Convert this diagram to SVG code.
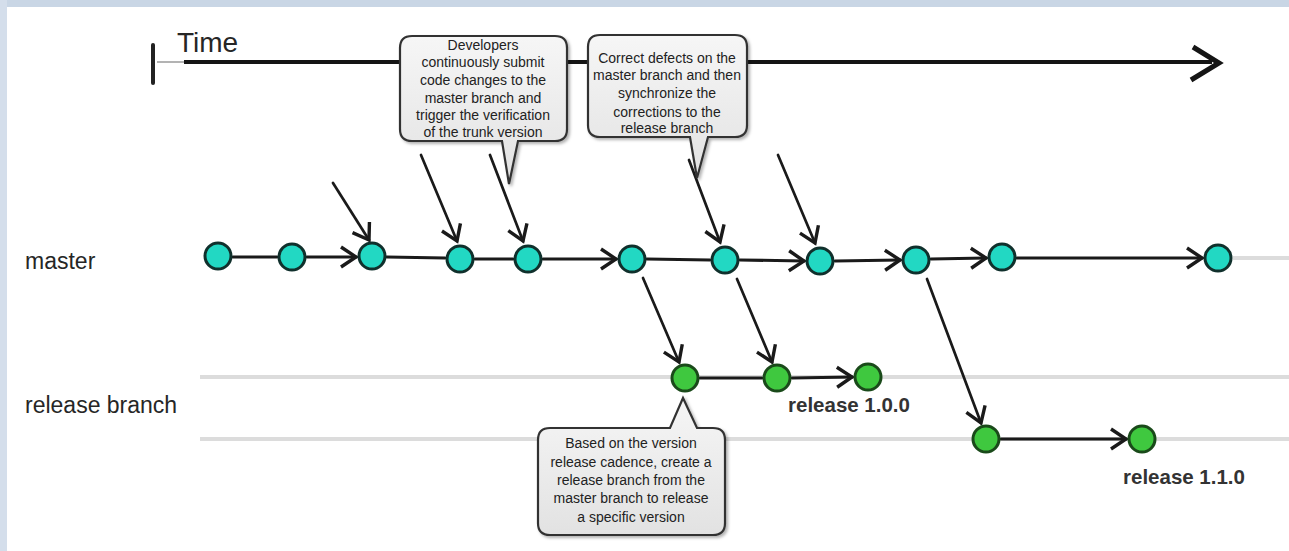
<svg xmlns="http://www.w3.org/2000/svg" width="1289" height="551" viewBox="0 0 1289 551">
  <style>
    .lbl { font-family: "Liberation Sans", Arial, sans-serif; fill: #262626; }
    .rel { font-family: "Liberation Sans", Arial, sans-serif; fill: #333333; font-weight: bold; font-size: 20.5px; }
    .call { font-family: "Liberation Sans", Arial, sans-serif; font-size: 14px; fill: #222222; text-anchor: middle; }
    .bubble { fill: url(#bubbleGrad); stroke: #333333; stroke-width: 2.2; filter: url(#shadow); }
    .m { fill: #22d8c3; stroke: #10302c; stroke-width: 3; }
    .r { fill: #3fc83f; stroke: #1a4a1a; stroke-width: 3; }
    .edge { stroke: #1a1a1a; stroke-width: 3; fill: none; stroke-linecap: round; }
    .diag { stroke: #1a1a1a; stroke-width: 2.7; fill: none; stroke-linecap: round; }
    .ghost { stroke: #dcdcdc; stroke-width: 4; fill: none; }
  </style>
  <defs>
    <linearGradient id="bubbleGrad" x1="0" y1="0" x2="0" y2="1">
      <stop offset="0" stop-color="#f6f6f6"/>
      <stop offset="1" stop-color="#e2e2e2"/>
    </linearGradient>
    <filter id="shadow" x="-10%" y="-10%" width="125%" height="130%">
      <feDropShadow dx="2" dy="2" stdDeviation="1.5" flood-color="#000" flood-opacity="0.3"/>
    </filter>
    <marker id="chev" markerUnits="userSpaceOnUse" markerWidth="24" markerHeight="26" viewBox="-18 -13 20 26" refX="0" refY="0" orient="auto">
      <path d="M-15,-10 L0,0 L-15,10" fill="none" stroke="#1a1a1a" stroke-width="3.4" stroke-linejoin="miter"/>
    </marker>
  </defs>

  <rect x="0" y="0" width="1289" height="551" fill="#ffffff"/>
  <rect x="0" y="0" width="1289" height="7" fill="#c9d6e5"/>
  <rect x="0" y="0" width="7" height="551" fill="#d4deeb"/>

  <!-- time axis -->
  <g id="time-axis">
    <line x1="153" y1="45" x2="153" y2="83" stroke="#222" stroke-width="4" stroke-linecap="round"/>
    <line x1="157" y1="62" x2="186" y2="62" stroke="#9a9a9a" stroke-width="1.5"/>
    <line x1="184" y1="62" x2="1212" y2="62" stroke="#151515" stroke-width="4"/>
    <path d="M1193,47 L1219,63 L1191,80" fill="none" stroke="#151515" stroke-width="5" stroke-linejoin="miter"/>
    <text class="lbl" x="177" y="52" font-size="28">Time</text>
  </g>

  <!-- lane labels -->
  <text class="lbl" x="25" y="269" font-size="23">master</text>
  <text class="lbl" x="25" y="413" font-size="23">release branch</text>

  <!-- background lanes -->
  <g id="lanes">
    <line class="ghost" x1="1233" y1="258" x2="1289" y2="258" stroke-width="3"/>
    <line class="ghost" x1="200" y1="377" x2="1289" y2="377"/>
    <line class="ghost" x1="200" y1="439" x2="1289" y2="439"/>
  </g>

  <!-- connectors -->
  <g id="connectors">
    <line class="edge" x1="233" y1="257" x2="277" y2="257"/>
    <line class="edge" x1="307" y1="257" x2="356" y2="257" marker-end="url(#chev)"/>
    <line class="edge" x1="387" y1="257" x2="445" y2="258"/>
    <line class="edge" x1="475" y1="259" x2="513" y2="259"/>
    <line class="edge" x1="543" y1="259" x2="616" y2="259" marker-end="url(#chev)"/>
    <line class="edge" x1="647" y1="259" x2="710" y2="260"/>
    <line class="edge" x1="740" y1="260" x2="804" y2="261" marker-end="url(#chev)"/>
    <line class="edge" x1="835" y1="261" x2="900" y2="260" marker-end="url(#chev)"/>
    <line class="edge" x1="931" y1="259" x2="986" y2="258" marker-end="url(#chev)"/>
    <line class="edge" x1="1017" y1="258" x2="1202" y2="258" marker-end="url(#chev)"/>

    <line class="edge" x1="700" y1="378" x2="762" y2="378"/>
    <line class="edge" x1="792" y1="378" x2="852" y2="377" marker-end="url(#chev)"/>
    <line class="edge" x1="1001" y1="439" x2="1126" y2="439" marker-end="url(#chev)"/>

    <line class="diag" x1="333" y1="183" x2="369" y2="240" marker-end="url(#chev)"/>
    <line class="diag" x1="421" y1="155" x2="457" y2="241" marker-end="url(#chev)"/>
    <line class="diag" x1="490" y1="155" x2="523" y2="241" marker-end="url(#chev)"/>
    <line class="diag" x1="689" y1="160" x2="720" y2="242" marker-end="url(#chev)"/>
    <line class="diag" x1="778" y1="155" x2="815" y2="243" marker-end="url(#chev)"/>

    <line class="diag" x1="643" y1="278" x2="679" y2="362" marker-end="url(#chev)"/>
    <line class="diag" x1="737" y1="279" x2="772" y2="362" marker-end="url(#chev)"/>
    <line class="diag" x1="927" y1="279" x2="981" y2="423" marker-end="url(#chev)"/>
  </g>

  <!-- master commits -->
  <g id="m1"><circle class="m" cx="218" cy="256" r="13"/></g>
  <g id="m2"><circle class="m" cx="292" cy="257" r="13"/></g>
  <g id="m3"><circle class="m" cx="372" cy="256" r="13"/></g>
  <g id="m4"><circle class="m" cx="460" cy="259" r="13"/></g>
  <g id="m5"><circle class="m" cx="528" cy="259" r="13"/></g>
  <g id="m6"><circle class="m" cx="632" cy="259" r="13"/></g>
  <g id="m7"><circle class="m" cx="725" cy="260" r="13"/></g>
  <g id="m8"><circle class="m" cx="820" cy="261" r="13"/></g>
  <g id="m9"><circle class="m" cx="916" cy="260" r="13"/></g>
  <g id="m10"><circle class="m" cx="1002" cy="257" r="13"/></g>
  <g id="m11"><circle class="m" cx="1218" cy="258" r="13"/></g>

  <!-- release commits -->
  <g id="r1"><circle class="r" cx="685" cy="378" r="13"/></g>
  <g id="r2"><circle class="r" cx="777" cy="378" r="13"/></g>
  <g id="r3"><circle class="r" cx="868" cy="377" r="13"/></g>
  <g id="r4"><circle class="r" cx="986" cy="439" r="13"/></g>
  <g id="r5"><circle class="r" cx="1142" cy="439" r="13"/></g>

  <text class="rel" x="788" y="412">release 1.0.0</text>
  <text class="rel" x="1123" y="484">release 1.1.0</text>

  <!-- callouts -->
  <g id="callout-developers">
    <path class="bubble" d="M412,36 H555 Q567,36 567,48 V129 Q567,141 555,141 H518 L509,184 L502,141 H412 Q400,141 400,129 V48 Q400,36 412,36 Z"/>
    <text class="call" x="483" y="50">Developers</text>
    <text class="call" x="483" y="67">continuously submit</text>
    <text class="call" x="483" y="85">code changes to the</text>
    <text class="call" x="483" y="103">master branch and</text>
    <text class="call" x="483" y="120">trigger the verification</text>
    <text class="call" x="483" y="137">of the trunk version</text>
  </g>

  <g id="callout-correct">
    <path class="bubble" d="M600,35 H735 Q747,35 747,47 V125 Q747,137 735,137 H708 L697,178 L690,137 H600 Q588,137 588,125 V47 Q588,35 600,35 Z"/>
    <text class="call" x="667" y="63">Correct defects on the</text>
    <text class="call" x="667" y="80">master branch and then</text>
    <text class="call" x="667" y="98">synchronize the</text>
    <text class="call" x="667" y="117">corrections to the</text>
    <text class="call" x="667" y="133">release branch</text>
  </g>

  <g id="callout-release">
    <path class="bubble" d="M550,428 H670 L683,398 L697,428 H713 Q725,428 725,440 V523 Q725,535 713,535 H550 Q538,535 538,523 V440 Q538,428 550,428 Z"/>
    <text class="call" x="631" y="448">Based on the version</text>
    <text class="call" x="631" y="467">release cadence, create a</text>
    <text class="call" x="631" y="485">release branch from the</text>
    <text class="call" x="631" y="503">master branch to release</text>
    <text class="call" x="631" y="522">a specific version</text>
  </g>
</svg>
